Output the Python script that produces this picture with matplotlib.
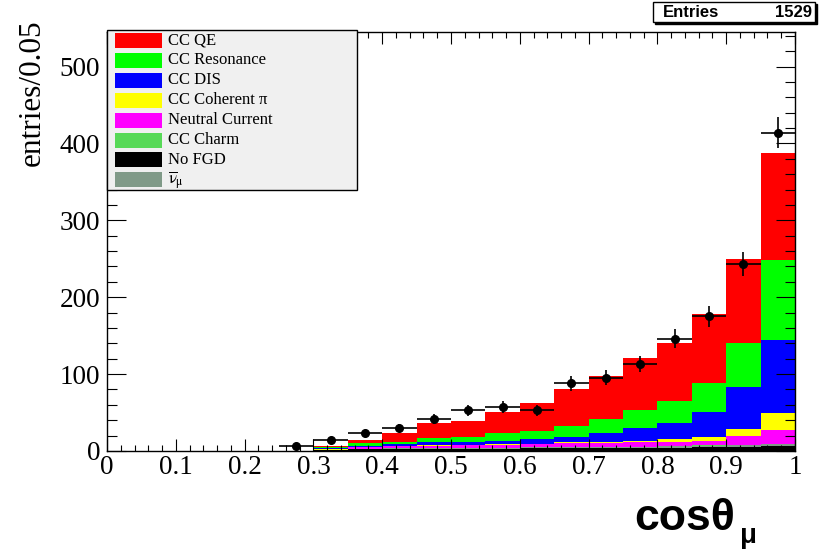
import numpy as np
import matplotlib.pyplot as plt
from matplotlib.patches import Rectangle
from matplotlib.ticker import MultipleLocator

plt.rcParams['font.family'] = ['Liberation Serif', 'DejaVu Serif']
plt.rcParams['mathtext.fontset'] = 'stix'

# ---------------- data (entries per 0.05 bin in cos theta_mu) ----------------
edges = np.linspace(0, 1, 21)

data_counts = [0, 0, 0, 0, 0, 6, 14, 23, 30, 42, 53, 57, 53, 88, 95, 113, 146, 175, 243, 414]

# MC components, stacked from the bottom up
no_fgd   = [0, 0, 0, 0, 0, 0, 1, 2, 3, 3, 3, 3, 4, 4, 4, 4, 4, 5, 5, 6]
nu_bar   = [0, 0, 0, 0, 0, 0, 0, 0.5, 1, 1, 1, 1, 1, 1.5, 1.5, 1.5, 2, 2, 2.5, 2.5]
cc_charm = [0, 0, 0, 0, 0, 0, 0, 0, 0, 0, 0, 0, 0, 0, 0, 0, 0, 0.2, 0.3, 0.5]
nc       = [0, 0, 0, 0, 0, 0, 0.5, 2.5, 2.5, 3, 3.5, 4, 3.5, 4.5, 5.3, 6.5, 6, 5.8, 11.7, 18.3]
cc_coh   = [0, 0, 0, 0, 0, 0, 1.5, 0.5, 0.5, 0.5, 0.5, 0.8, 0.8, 1.5, 1.2, 1.4, 3.2, 5.6, 8.8, 21.7]
cc_dis   = [0, 0, 0, 0, 0, 0, 1, 1.5, 2, 3.8, 4, 4.6, 6.2, 7.1, 11.8, 16.1, 21.6, 31.8, 55.4, 95.5]
cc_res   = [0, 0, 0, 0, 0, 0, 1, 3, 3, 5.2, 6.6, 9.6, 10.9, 13.9, 17.2, 23.9, 28.7, 37.6, 57.3, 104.5]
cc_qe    = [0, 0, 0, 0, 0, 0, 2, 4.3, 11.8, 19.5, 20.9, 27.4, 36.6, 47.5, 56, 67.6, 74.5, 90, 109, 139]

legend_labels = ['CC QE', 'CC Resonance', 'CC DIS', u'CC Coherent \u03c0',
                 'Neutral Current', 'CC Charm', 'No FGD', r'$\overline{\mathrm{\nu}}_{\mathrm{\mu}}$']
legend_colors = ['#ff0000', '#00ff00', '#0000ff', '#ffff00',
                 '#ff00ff', '#57d957', '#000000', '#809a88']

xtick_vals = [0, 0.1, 0.2, 0.3, 0.4, 0.5, 0.6, 0.7, 0.8, 0.9, 1.0]
xtick_labels = ['0', '0.1', '0.2', '0.3', '0.4', '0.5', '0.6', '0.7', '0.8', '0.9', '1']
ytick_vals = [0, 100, 200, 300, 400, 500]

W, H = 826, 553
def fx(px):
    return px / W
def fy(py):
    return 1 - py / H

fig = plt.figure(figsize=(W / 100, H / 100), dpi=100)
ax = fig.add_axes([fx(107), fy(451), 688 / W, 419 / H])

# stacked histogram, bottom to top
stack = [no_fgd, nu_bar, cc_charm, nc, cc_coh, cc_dis, cc_res, cc_qe]
stack_colors = ['#000000', '#809a88', '#57d957', '#ff00ff', '#ffff00', '#0000ff', '#00ff00', '#ff0000']
base = np.zeros(20)
for vals, col in zip(stack, stack_colors):
    top = base + np.array(vals, dtype=float)
    ax.stairs(top, edges, baseline=base.copy(), fill=True, color=col, lw=0)
    base = top

# data points
counts = np.array(data_counts, dtype=float)
centers = 0.5 * (edges[:-1] + edges[1:])
m = counts > 0
ax.errorbar(centers[m], counts[m], xerr=0.025, yerr=np.sqrt(counts[m]), fmt='o',
            color='black', ms=5.5, elinewidth=1.2, capsize=0, zorder=5)

ax.set_xlim(0, 1)
ax.set_ylim(0, 545)
ax.set_xticks(xtick_vals)
ax.set_xticklabels(xtick_labels, fontsize=19.5)
ax.set_yticks(ytick_vals)
ax.set_yticklabels([str(v) for v in ytick_vals], fontsize=19.5)
ax.xaxis.set_minor_locator(MultipleLocator(0.02))
ax.yaxis.set_minor_locator(MultipleLocator(20))
ax.tick_params(which='both', direction='in', top=True, right=True, width=0.8)
ax.tick_params(axis='x', which='major', length=8.5, pad=3)
ax.tick_params(axis='x', which='minor', length=4.3)
ax.tick_params(axis='y', which='major', length=14, pad=5)
ax.tick_params(axis='y', which='minor', length=7)
for s in ax.spines.values():
    s.set_linewidth(1.0)

# y title, top aligned like ROOT
fig.text(fx(32), fy(19), 'entries/0.05', rotation=90, ha='center', va='top', fontsize=22.5)

# x title, bold sans at the lower right
fig.text(fx(634), fy(530), u'cos\u03b8', family='Liberation Sans', fontweight='bold',
         fontsize=32, ha='left', va='baseline')
fig.text(fx(740), fy(543), u'\u03bc', family='Liberation Sans', fontweight='bold',
         fontsize=20, ha='left', va='baseline')

# legend box
fig.patches.append(Rectangle((fx(107), fy(190)), fx(357) - fx(107), fy(30) - fy(190),
                             transform=fig.transFigure, facecolor='#f0f0f0',
                             edgecolor='black', lw=1.0, zorder=10))
for i, (lab, col) in enumerate(zip(legend_labels, legend_colors)):
    yc = 40.5 + 19.9 * i
    fig.patches.append(Rectangle((fx(115), fy(yc + 7.5)), 47 / W, 15 / H,
                                 transform=fig.transFigure, facecolor=col,
                                 edgecolor='none', zorder=11))
    fig.text(fx(168), fy(yc), lab, fontsize=12, ha='left', va='center', zorder=12)

# statistics box
fig.patches.append(Rectangle((fx(655), fy(24)), 162 / W, 20 / H,
                             transform=fig.transFigure, facecolor='black',
                             edgecolor='black', lw=1.0, zorder=10))
fig.patches.append(Rectangle((fx(653), fy(22)), 162 / W, 20 / H,
                             transform=fig.transFigure, facecolor='white',
                             edgecolor='black', lw=1.0, zorder=11))
fig.text(fx(663), fy(12.5), 'Entries', family='Liberation Sans', fontweight='bold',
         fontsize=12, ha='left', va='center', zorder=12)
fig.text(fx(812), fy(12.5), '1529', family='Liberation Sans', fontweight='bold',
         fontsize=12, ha='right', va='center', zorder=12)

fig.savefig('out.png', dpi=100)
